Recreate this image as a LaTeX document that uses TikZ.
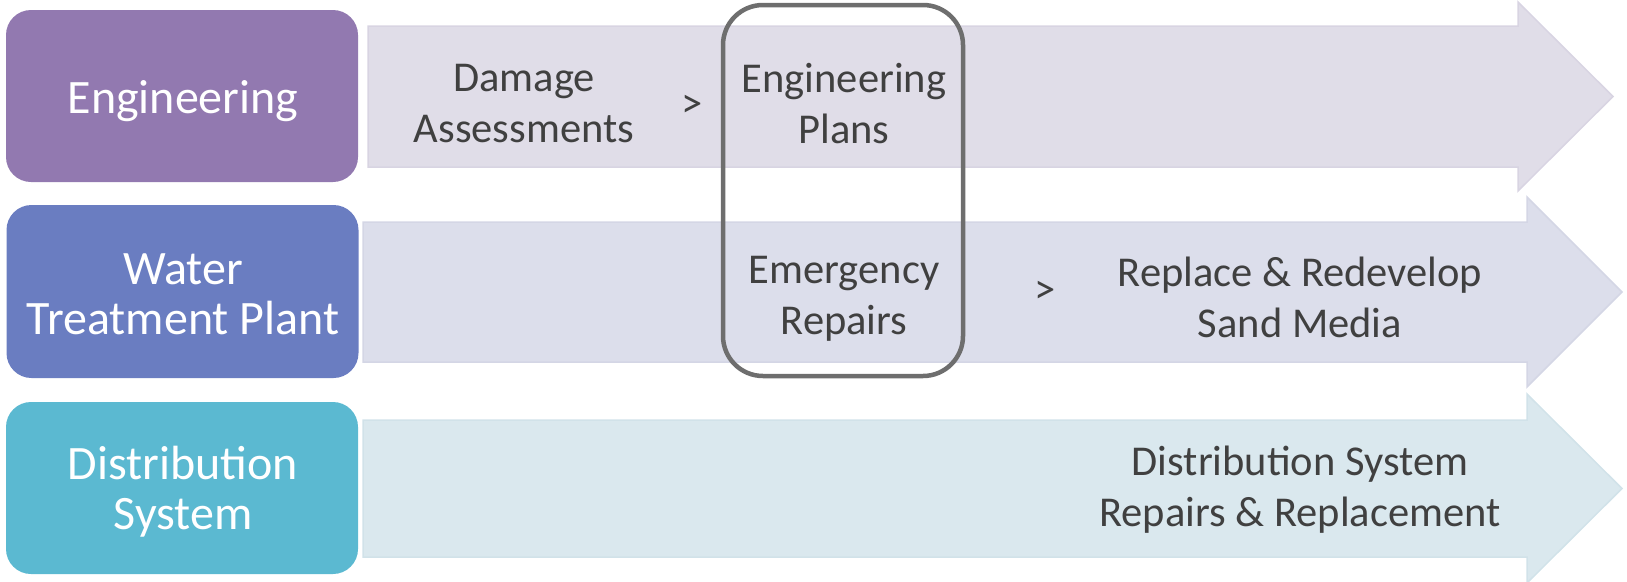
\documentclass[tikz,border=0pt]{standalone}
\usepackage{fontspec}
\setmainfont{Carlito}
\definecolor{engc}{HTML}{9279B0}
\definecolor{watc}{HTML}{6A7DC1}
\definecolor{disc}{HTML}{5BB9D1}
\definecolor{aonef}{HTML}{E0DDE8}
\definecolor{aonee}{HTML}{D8D4E2}
\definecolor{atwof}{HTML}{DCDEEB}
\definecolor{atwoe}{HTML}{D4D6E5}
\definecolor{athreef}{HTML}{DAE8EE}
\definecolor{athreee}{HTML}{D1E2E9}
\definecolor{txtc}{HTML}{404040}
\definecolor{focc}{HTML}{6E6E6E}
\begin{document}
\begin{tikzpicture}[x=1pt,y=-1pt,
  catbox/.style={rounded corners=25pt, fill=#1, minimum width=352pt, minimum height=172pt, inner sep=0pt},
  cattext/.style={text=white, align=center, inner sep=0pt, font=\fontsize{48}{50}\selectfont},
  lbl/.style={text=txtc, align=center, inner sep=0pt, font=\fontsize{42.5}{51}\selectfont},
  band/.style={line width=1.5pt}]
\useasboundingbox (0,0) rectangle (1627,581);
% arrows
\path[band, fill=aonef, draw=aonee] (368,26) -- (1518,26) -- (1518,2) -- (1613,96.5) -- (1518,191) -- (1518,167) -- (368,167) -- cycle;
\path[band, fill=atwof, draw=atwoe] (363,222) -- (1527,222) -- (1527,197) -- (1622,292) -- (1527,387) -- (1527,362) -- (363,362) -- cycle;
\path[band, fill=athreef, draw=athreee] (363,420) -- (1527,420) -- (1527,394) -- (1622,488.5) -- (1527,583) -- (1527,557) -- (363,557) -- cycle;
% category boxes
\node[catbox=engc] (eng) at (182,96) {};
\node[catbox=watc, minimum height=173pt] (wat) at (182.5,291.5) {};
\node[catbox=disc] (dis) at (182,488) {};
\node[cattext] (engt) at (183,101) {Engineering};
\node[cattext] (watt) at (183,294.5) {Water\\Treatment Plant};
\node[cattext] (dist) at (183,492) {Distribution\\System};
% labels
\node[lbl] (dam) at (524,104) {Damage\\Assessments};
\node[lbl] (gt1) at (692,106) {>};
\node[lbl] (epl) at (844,104) {Engineering\\Plans};
\node[lbl] (emr) at (844,299) {Emergency\\Repairs};
\node[lbl] (gt2) at (1045,292) {>};
\node[lbl] (rep) at (1300,297) {Replace \& Redevelop\\Sand Media};
\node[lbl] (dsr) at (1300,490) {Distribution System\\Repairs \& Replacement};
% focus frame
\node[draw=focc, line width=4.5pt, rounded corners=40pt, minimum width=240pt, minimum height=371pt, inner sep=0pt] (focus) at (843,190.5) {};
\end{tikzpicture}
\end{document}
